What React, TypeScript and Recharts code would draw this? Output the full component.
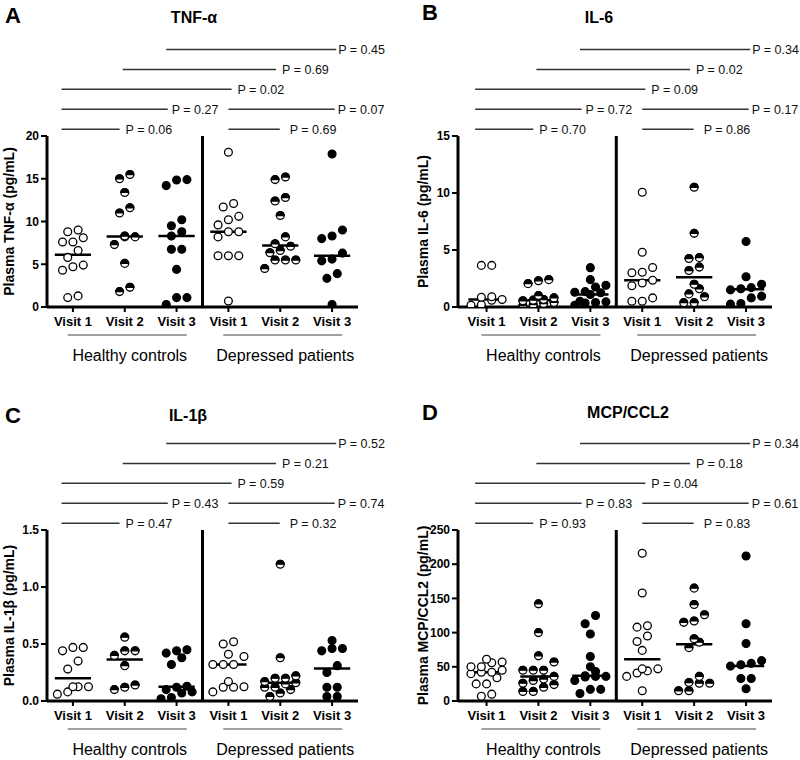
import React from 'react';
import { ScatterChart, Scatter, XAxis, YAxis, ReferenceLine } from 'recharts';

const FONT = '"Liberation Sans", Arial, Helvetica, sans-serif';

// ---------- categories / shared labels ----------
const visitLabels = ['Visit 1', 'Visit 2', 'Visit 3', 'Visit 1', 'Visit 2', 'Visit 3'];
const groupLabels = ['Healthy controls', 'Depressed patients'];
const groupCenters = [1, 4];
const markerKinds = ['open', 'half', 'filled', 'open', 'half', 'filled'];

// comparison brackets (extent in category units, row above the plot)
const bracketFrom = [-0.22, -0.22, -0.22, 0.96, 1.8, 3.0, 3.0];
const bracketTo = [0.9, 1.83, 3.06, 3.92, 5.08, 5.05, 3.99];
const bracketRow = [0, 1, 2, 3, 4, 1, 0];

// ---------- Panel A: TNF-alpha ----------
const tnfHC1 = [9.0, 8.8, 8.1, 7.6, 7.6, 6.6, 5.8, 4.9, 4.7, 4.3, 1.3, 1.1];
const tnfHC2 = [15.5, 15.0, 13.4, 11.6, 11.0, 8.3, 8.2, 8.2, 7.3, 5.1, 2.3, 1.8];
const tnfHC3 = [14.9, 14.85, 14.2, 10.2, 9.5, 8.8, 8.3, 6.75, 6.75, 4.4, 1.1, 1.1, 0.3];
const tnfDP1 = [18.1, 12.1, 11.7, 10.6, 10.2, 9.6, 8.8, 8.8, 8.2, 6.0, 6.0, 6.0, 0.7];
const tnfDP2 = [15.2, 14.9, 12.8, 12.4, 10.7, 8.2, 7.4, 7.1, 6.6, 6.35, 5.5, 5.5, 5.5, 4.5];
const tnfDP3 = [17.9, 9.0, 8.3, 8.0, 6.3, 5.6, 5.4, 3.9, 3.35, 0.3];
const tnfMedians = [6.1, 8.25, 8.3, 8.8, 7.2, 6.0];
const tnfP = ['0.06', '0.27', '0.02', '0.69', '0.45', '0.07', '0.69'];
const tnfTicks = [0, 5, 10, 15, 20];

// ---------- Panel B: IL-6 ----------
const il6HC1 = [3.65, 3.65, 0.9, 0.85, 0.65, 0.6, 0.2, 0.15];
const il6HC2 = [2.4, 2.3, 2.05, 1.0, 0.8, 0.65, 0.6, 0.55, 0.4, 0.3, 0.2, 0.1];
const il6HC3 = [3.45, 2.4, 1.9, 1.75, 1.35, 1.3, 1.25, 1.1, 0.5, 0.45, 0.4, 0.35, 0.15];
const il6DP1 = [10.07, 4.8, 3.47, 3.05, 3.0, 2.35, 2.1, 1.87, 0.8, 0.5, 0.5];
const il6DP2 = [10.5, 6.46, 4.33, 4.25, 3.5, 3.2, 2.0, 1.6, 1.15, 0.9, 0.38, 0.38];
const il6DP3 = [5.75, 2.65, 2.0, 1.7, 1.6, 1.5, 0.95, 0.8, 0.3, 0.25];
const il6Medians = [0.65, 0.6, 1.1, 2.35, 2.6, 1.55];
const il6P = ['0.70', '0.72', '0.09', '0.02', '0.34', '0.17', '0.86'];
const il6Ticks = [0, 5, 10, 15];

// ---------- Panel C: IL-1beta ----------
const il1HC1 = [0.47, 0.47, 0.44, 0.35, 0.28, 0.125, 0.125, 0.125, 0.08, 0.06];
const il1HC2 = [0.56, 0.44, 0.44, 0.4, 0.31, 0.14, 0.12, 0.1];
const il1HC3 = [0.45, 0.44, 0.42, 0.38, 0.32, 0.13, 0.12, 0.1, 0.08, 0.07, 0.03, 0.02];
const il1DP1 = [0.52, 0.5, 0.41, 0.39, 0.32, 0.32, 0.32, 0.17, 0.125, 0.12, 0.12, 0.08];
const il1DP2 = [1.2, 0.38, 0.22, 0.2, 0.2, 0.17, 0.16, 0.15, 0.12, 0.12, 0.1, 0.07, 0.04];
const il1DP3 = [0.53, 0.46, 0.46, 0.44, 0.31, 0.25, 0.12, 0.12, 0.04, 0.04];
const il1Medians = [0.2, 0.365, 0.125, 0.32, 0.16, 0.285];
const il1P = ['0.47', '0.43', '0.59', '0.21', '0.52', '0.74', '0.32'];
const il1Ticks = [0, 0.5, 1.0, 1.5];

// ---------- Panel D: MCP/CCL2 ----------
const mcpHC1 = [61, 57, 56, 50, 50, 45, 42, 42, 40, 34, 25, 25, 10, 7];
const mcpHC2 = [142, 100, 66, 57, 45, 45, 45, 36, 32, 30, 26, 24, 20, 14, 14];
const mcpHC3 = [125, 113, 98, 65, 50, 43, 37, 36, 36, 35, 30, 17, 17, 11];
const mcpDP1 = [216, 158, 110, 108, 95, 87, 74, 47, 47, 44, 41, 36, 15];
const mcpDP2 = [165, 141, 126, 117, 115, 91, 86, 78, 36, 27, 26, 26, 15, 15];
const mcpDP3 = [212, 113, 84, 59, 55, 53, 51, 33, 33, 18];
const mcpMedians = [42, 36, 37, 61, 83, 51];
const mcpP = ['0.93', '0.83', '0.04', '0.18', '0.34', '0.61', '0.83'];
const mcpTicks = [0, 50, 100, 150, 200, 250];

const W = 400;
const H = 366;
const PLOT_TOP = 136;
const PLOT_BOTTOM = 307;

const panels = [
  {
    key: 'A', left: 0, top: 0, plotLeft: 47, plotWidth: 311, xMin: -0.5,
    yMax: 20, yTicks: tnfTicks, decimals: 0,
    groups: [tnfHC1, tnfHC2, tnfHC3, tnfDP1, tnfDP2, tnfDP3], medians: tnfMedians, pvals: tnfP,
    title: 'TNF-α', titleX: 194, titleY: 23, letterX: 5, letterY: 23, yLabel: 'Plasma TNF-α (pg/mL)', yLabelX: 14,
  },
  {
    key: 'B', left: 400, top: 0, plotLeft: 58, plotWidth: 314, xMin: -0.55,
    yMax: 15, yTicks: il6Ticks, decimals: 0,
    groups: [il6HC1, il6HC2, il6HC3, il6DP1, il6DP2, il6DP3], medians: il6Medians, pvals: il6P,
    title: 'IL-6', titleX: 199, titleY: 23, letterX: 22, letterY: 20, yLabel: 'Plasma IL-6 (pg/mL)', yLabelX: 28,
  },
  {
    key: 'C', left: 0, top: 394, plotLeft: 47, plotWidth: 311, xMin: -0.5,
    yMax: 1.5, yTicks: il1Ticks, decimals: 1,
    groups: [il1HC1, il1HC2, il1HC3, il1DP1, il1DP2, il1DP3], medians: il1Medians, pvals: il1P,
    title: 'IL-1β', titleX: 188, titleY: 27, letterX: 5, letterY: 29, yLabel: 'Plasma IL-1β (pg/mL)', yLabelX: 14,
  },
  {
    key: 'D', left: 400, top: 394, plotLeft: 58, plotWidth: 314, xMin: -0.55,
    yMax: 250, yTicks: mcpTicks, decimals: 0,
    groups: [mcpHC1, mcpHC2, mcpHC3, mcpDP1, mcpDP2, mcpDP3], medians: mcpMedians, pvals: mcpP,
    title: 'MCP/CCL2', titleX: 228, titleY: 24, letterX: 22, letterY: 26, yLabel: 'Plasma MCP/CCL2 (pg/mL)', yLabelX: 28,
  },
];

const bracketGap = [6, 4, 6, 6, 2, 3, 10];

// simple Prism-like horizontal spreading of points that share a value band
function spread(values: number[], idx: number, yMax: number) {
  const sorted = values.slice().sort((a, b) => a - b);
  const band = yMax * 0.05;
  const rows: number[][] = [];
  let cur: number[] = [];
  for (const v of sorted) {
    if (cur.length && (v - cur[0] > band || cur.length >= 4)) {
      rows.push(cur);
      cur = [];
    }
    cur.push(v);
  }
  if (cur.length) rows.push(cur);
  const pts: { x: number; y: number }[] = [];
  rows.forEach((row) => {
    row.forEach((v, k) => {
      pts.push({ x: idx + (k - (row.length - 1) / 2) * 0.2, y: v });
    });
  });
  return pts;
}

function Marker(kind: string) {
  return (p: any) => {
    const { cx, cy } = p;
    if (cx == null || cy == null) return <g />;
    const r = 3.9;
    if (kind === 'filled') {
      return <circle cx={cx} cy={cy} r={r} fill="#000" stroke="#000" strokeWidth={1.3} />;
    }
    if (kind === 'open') {
      return <circle cx={cx} cy={cy} r={r} fill="#fff" stroke="#000" strokeWidth={1.3} />;
    }
    return (
      <g>
        <circle cx={cx} cy={cy} r={r} fill="#fff" stroke="#000" strokeWidth={1.3} />
        <path d={`M ${cx - r} ${cy} A ${r} ${r} 0 0 1 ${cx + r} ${cy} Z`} fill="#000" stroke="#000" strokeWidth={1.3} />
      </g>
    );
  };
}

const VisitTick = (props: any) => {
  const { x, y, payload } = props;
  const i = payload.value;
  const gi = groupCenters.indexOf(i);
  return (
    <g>
      <text x={x} y={y + 12} textAnchor="middle" fontSize={13} fontWeight="bold" fill="#000" fontFamily={FONT}>
        {visitLabels[i]}
      </text>
      {gi >= 0 && (
        <g>
          <line x1={x - 57} x2={x + 62} y1={y + 21} y2={y + 21} stroke="#444" strokeWidth={1} />
          <text x={x + 5} y={y + 47} textAnchor="middle" fontSize={16} fill="#000" fontFamily={FONT}>
            {groupLabels[gi]}
          </text>
        </g>
      )}
    </g>
  );
};

function Panel({ cfg }: { cfg: any }) {
  const right = W - cfg.plotLeft - cfg.plotWidth;
  const fmt = (v: number) => v.toFixed(cfg.decimals);
  return (
    <div style={{ position: 'absolute', left: cfg.left, top: cfg.top, width: W, height: H }}>
      <ScatterChart width={W} height={H} margin={{ top: PLOT_TOP, right, bottom: 0, left: 0 }}>
        <XAxis
          type="number"
          dataKey="x"
          domain={[cfg.xMin, 5.5]}
          ticks={[0, 1, 2, 3, 4, 5]}
          interval={0}
          allowDataOverflow
          height={H - PLOT_BOTTOM}
          axisLine={{ stroke: '#000', strokeWidth: 3 }}
          tickLine={{ stroke: '#000', strokeWidth: 2 }}
          tickSize={5}
          tick={(p: any) => <VisitTick {...p} />}
        />
        <YAxis
          type="number"
          dataKey="y"
          domain={[0, cfg.yMax]}
          ticks={cfg.yTicks}
          interval={0}
          allowDataOverflow
          width={cfg.plotLeft}
          axisLine={{ stroke: '#000', strokeWidth: 3 }}
          tickLine={{ stroke: '#000', strokeWidth: 2 }}
          tickSize={6}
          tickMargin={2}
          tickFormatter={fmt}
          tick={{ fill: '#000', fontSize: 12, fontWeight: 'bold', fontFamily: FONT }}
        />
        <ReferenceLine x={2.5} stroke="#000" strokeWidth={3} />
        {cfg.groups.map((vals: number[], i: number) => (
          <Scatter
            key={'s' + i}
            data={spread(vals, i, cfg.yMax)}
            isAnimationActive={false}
            shape={Marker(markerKinds[i])}
          />
        ))}
        {cfg.medians.map((m: number, i: number) => (
          <ReferenceLine
            key={'m' + i}
            segment={[{ x: i - 0.35, y: m }, { x: i + 0.35, y: m }]}
            stroke="#000"
            strokeWidth={2.5}
            ifOverflow="visible"
          />
        ))}
        {cfg.pvals.map((p: string, k: number) => {
          const yy = cfg.yMax * (1.04 + 0.1165 * bracketRow[k]);
          return (
            <ReferenceLine
              key={'b' + k}
              segment={[{ x: bracketFrom[k], y: yy }, { x: bracketTo[k], y: yy }]}
              stroke="#333"
              strokeWidth={1.5}
              ifOverflow="visible"
              label={{ value: `P = ${p}`, position: 'right', offset: bracketGap[k], fill: '#111', fontSize: 12.5, fontFamily: FONT }}
            />
          );
        })}
      </ScatterChart>
      <svg width={W} height={H} style={{ position: 'absolute', left: 0, top: 0, pointerEvents: 'none' }}>
        <text x={cfg.letterX} y={cfg.letterY} fontSize={22} fontWeight="bold" fill="#000" fontFamily={FONT}>{cfg.key}</text>
        <text x={cfg.titleX} y={cfg.titleY} fontSize={16} fontWeight="bold" textAnchor="middle" fill="#000" fontFamily={FONT}>{cfg.title}</text>
        <text
          transform={`translate(${cfg.yLabelX}, ${(PLOT_TOP + PLOT_BOTTOM) / 2}) rotate(-90)`}
          textAnchor="middle"
          fontSize={14}
          fontWeight="bold"
          fill="#000"
          fontFamily={FONT}
        >
          {cfg.yLabel}
        </text>
      </svg>
    </div>
  );
}

export default function App() {
  return (
    <div style={{ position: 'absolute', left: 0, top: 0, width: 800, height: 760, overflow: 'hidden', background: '#fff', fontFamily: FONT }}>
      {panels.map((cfg) => (
        <Panel key={cfg.key} cfg={cfg} />
      ))}
    </div>
  );
}
